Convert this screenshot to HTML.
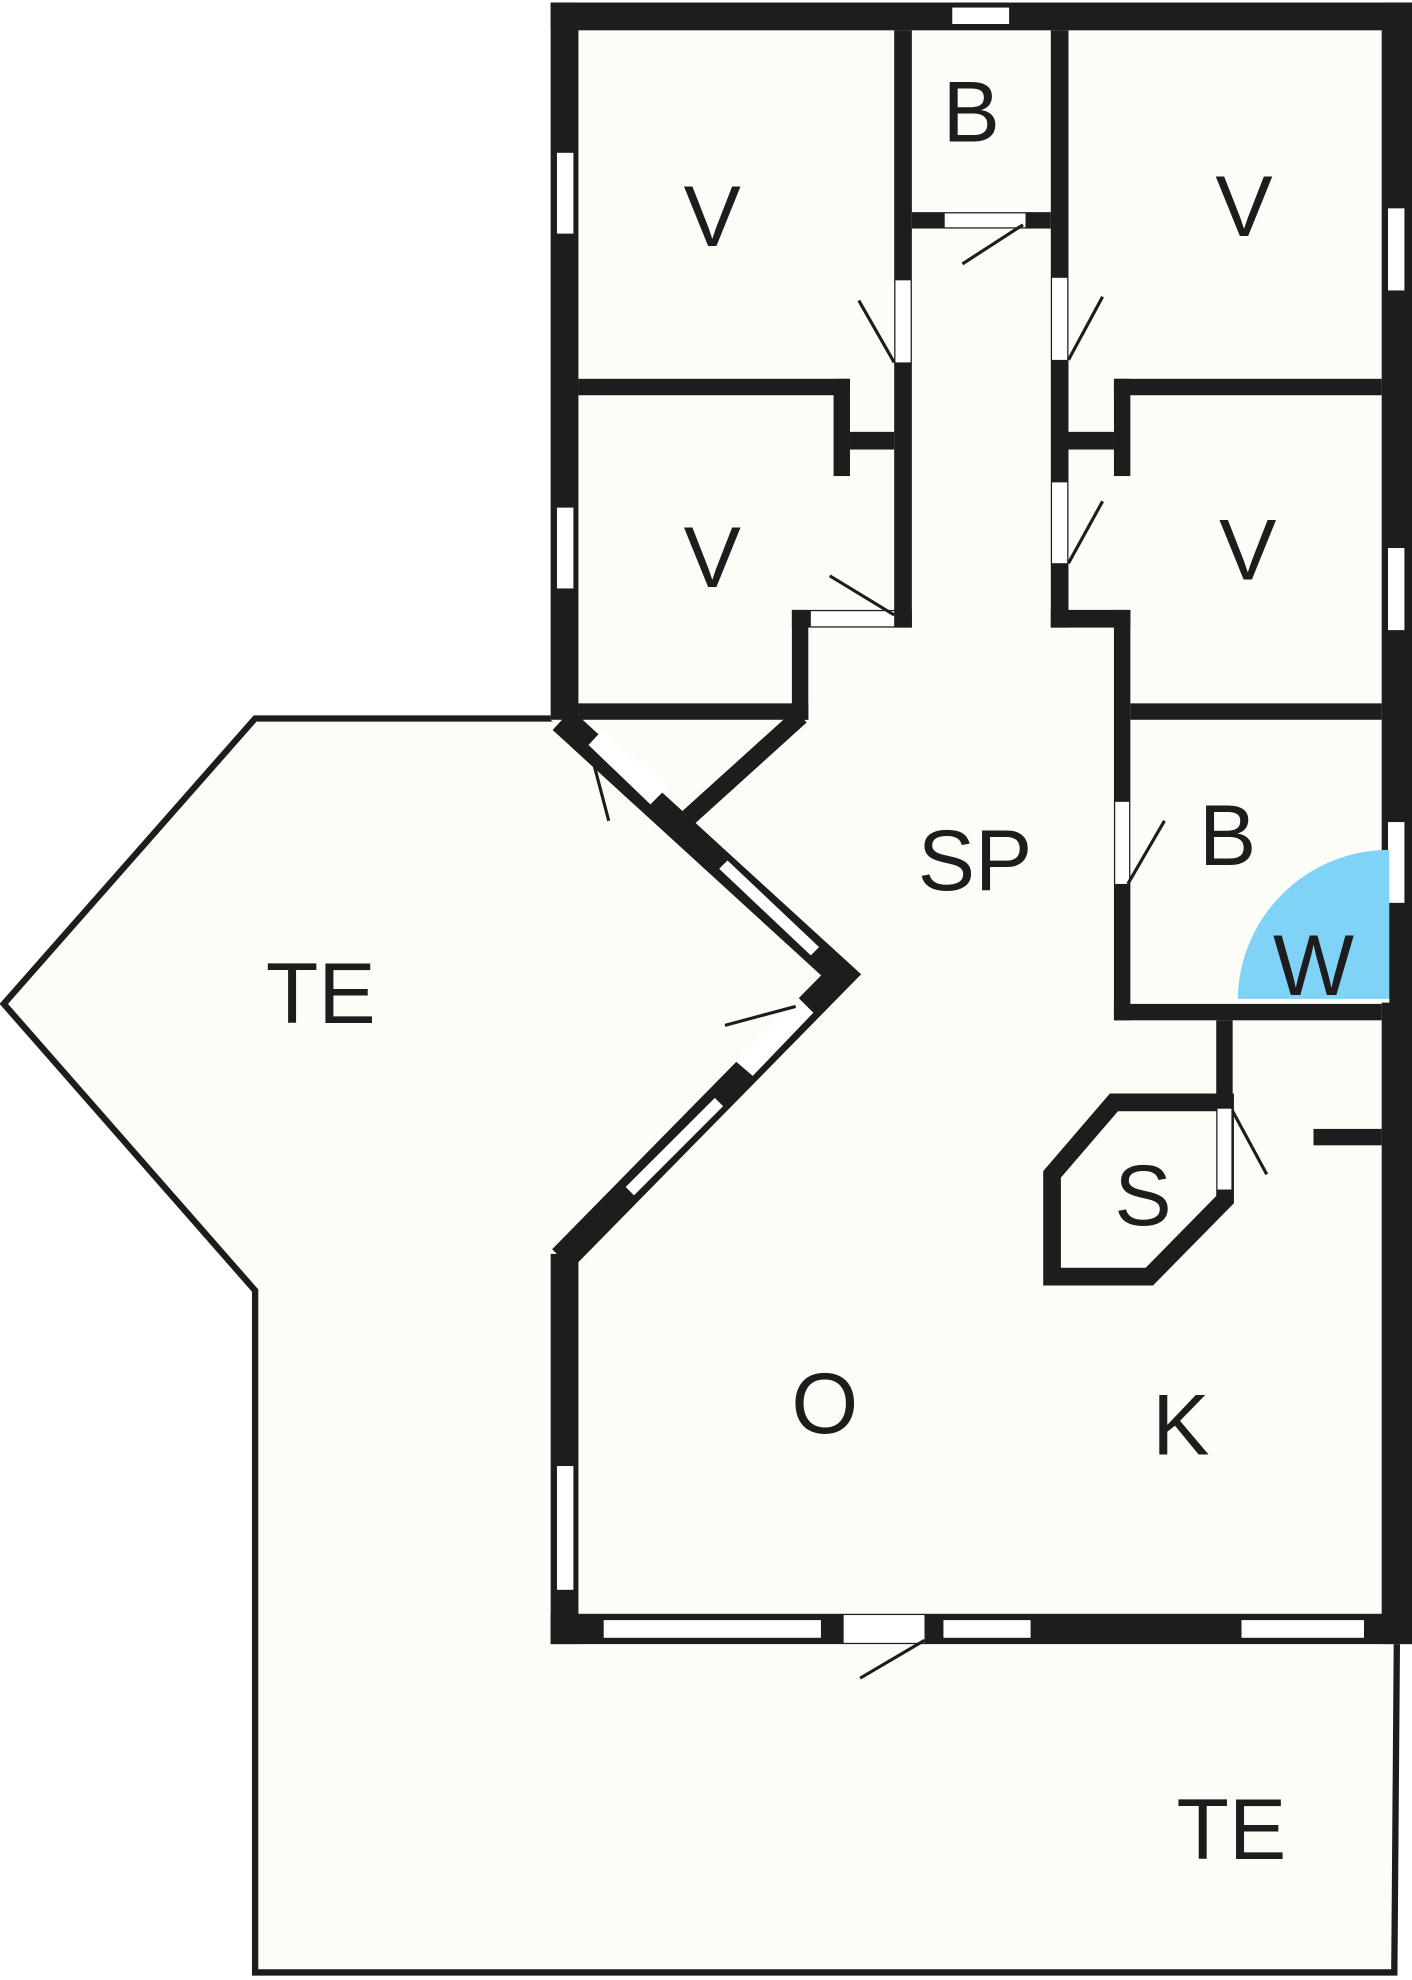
<!DOCTYPE html>
<html><head><meta charset="utf-8"><style>html,body{margin:0;padding:0;background:#fff}svg{display:block}</style></head>
<body>
<svg width="1412" height="1980" viewBox="0 0 1118 1568" preserveAspectRatio="none" xmlns="http://www.w3.org/2000/svg">
<!-- terrace fill -->
<polygon points="202,569 440,569 666,772 447,997 447,1302 1106,1302 1104,1562 202,1562 202,1022 3,795" fill="#fdfdf8"/>
<polyline points="440,569 202,569 3,795 202,1022 202,1562 1104,1562 1106,1302" fill="none" stroke="#1e1c1c" stroke-width="5"/>
<!-- building floor -->
<polygon points="436,2 1118,2 1118,1302 436,1302 436,993 660,772 436,570" fill="#fdfdf8"/>
<g fill="#1e1c1c">
<rect x="436" y="2" width="682" height="22"/>
<rect x="436" y="2" width="22" height="568"/>
<rect x="1094" y="2" width="24" height="1300"/>
<rect x="436" y="1278" width="682" height="24"/>
<rect x="436" y="993" width="22" height="309"/>
<rect x="708" y="24" width="14" height="473"/>
<rect x="832" y="24" width="14" height="473"/>
<rect x="722" y="168" width="110" height="13"/>
<rect x="458" y="300" width="215" height="13"/>
<rect x="660" y="300" width="13" height="77"/>
<rect x="673" y="342" width="35" height="14"/>
<rect x="882" y="300" width="212" height="13"/>
<rect x="882" y="300" width="13" height="77"/>
<rect x="846" y="342" width="36" height="14"/>
<rect x="458" y="557" width="182" height="13"/>
<rect x="627" y="483" width="13" height="87"/>
<rect x="627" y="483" width="95" height="14"/>
<rect x="832" y="483" width="63" height="14"/>
<rect x="882" y="483" width="13" height="325"/>
<rect x="895" y="557" width="199" height="13"/>
<rect x="882" y="795" width="212" height="13"/>
<rect x="963" y="808" width="13" height="72"/>
<rect x="1040" y="894" width="54" height="13"/>
</g>
<polygon points="833,930 882,873 970,873 970,950 910,1011 833,1011" fill="none" stroke="#1e1c1c" stroke-width="14"/>
<line x1="634" y1="567" x2="540" y2="652" stroke="#1e1c1c" stroke-width="14"/>
<polyline points="445,570 666,772 445,997" fill="none" stroke="#1e1c1c" stroke-width="22" stroke-miterlimit="10"/>
<g fill="#fff">
<rect x="709" y="222" width="12" height="65"/>
<rect x="833" y="220" width="12" height="65"/>
<rect x="833" y="382" width="12" height="64"/>
<rect x="748" y="169" width="64" height="11"/>
<rect x="642" y="484" width="66" height="12"/>
<rect x="883" y="635" width="11" height="65"/>
<rect x="964" y="878" width="11" height="64"/>
<rect x="668" y="1279" width="64" height="22"/>
<polygon points="466,590 477,578 528,624 515,637"/>
<polygon points="582,840 632,790 644,802 596,852"/>
</g>
<g fill="#fff" stroke="#1e1c1c" stroke-width="2">
<rect x="440" y="120" width="15" height="66"/>
<rect x="440" y="401" width="15" height="66"/>
<rect x="440" y="1160" width="15" height="100"/>
<rect x="753" y="5" width="47" height="15"/>
<rect x="1098" y="164" width="15" height="67"/>
<rect x="1098" y="433" width="15" height="67"/>
<rect x="1098" y="650" width="15" height="66"/>
<rect x="477" y="1282" width="174" height="16"/>
<rect x="746" y="1282" width="71" height="16"/>
<rect x="982" y="1282" width="99" height="16"/>
<polygon points="568,688 576,680 650,750 642,758"/>
<polygon points="494,940 566,868 574,876 502,948"/>
</g>
<g stroke="#1e1c1c" stroke-width="2.5">
<line x1="680" y1="238" x2="708" y2="287"/>
<line x1="762" y1="209" x2="810" y2="178"/>
<line x1="873" y1="235" x2="846" y2="285"/>
<line x1="873" y1="397" x2="846" y2="446"/>
<line x1="657" y1="456" x2="708" y2="487"/>
<line x1="922" y1="650" x2="893" y2="700"/>
<line x1="1003" y1="930" x2="976" y2="880"/>
<line x1="681" y1="1329" x2="732" y2="1299"/>
<line x1="482" y1="650" x2="467" y2="593"/>
<line x1="574" y1="812" x2="630" y2="797"/>
</g>
<path d="M980,793 A120,120 0 0 1 1100,673 L1100,793 Z" fill="#7fd3f7"/>
<rect x="980" y="791" width="120" height="3" fill="#fff"/>
<g font-family="Liberation Sans, sans-serif" font-size="68" fill="#1e1c1c" text-anchor="middle">
<text x="564" y="195">V</text>
<text x="769" y="112">B</text>
<text x="985" y="187">V</text>
<text x="564" y="465">V</text>
<text x="988" y="459">V</text>
<text x="972" y="685">B</text>
<text x="772" y="705">SP</text>
<text x="1040" y="788">W</text>
<text x="254" y="810">TE</text>
<text x="905" y="970">S</text>
<text x="653" y="1135">O</text>
<text x="935" y="1152">K</text>
<text x="975" y="1472">TE</text>
</g>
</svg>
</body></html>
